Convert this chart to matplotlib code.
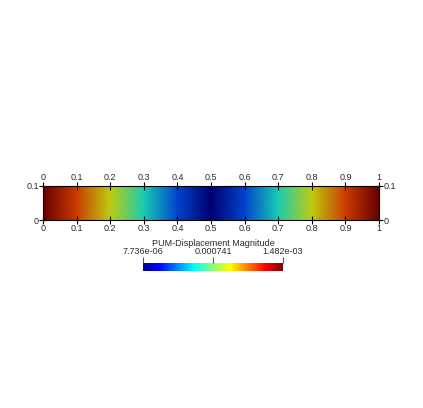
import numpy as np
import matplotlib
matplotlib.use('Agg')
from matplotlib import pyplot as plt
from matplotlib.colors import LinearSegmentedColormap, Normalize
from matplotlib.cm import ScalarMappable

# node positions along the bar and the displacement magnitude read at each one
x_nodes = [0.0, 0.1, 0.2, 0.3, 0.4, 0.5, 0.6, 0.7, 0.8, 0.9, 1.0]
y_nodes = [0.0, 0.1]
magnitude = [1.482e-03, 1.186e-03, 0.889e-03, 0.593e-03, 0.297e-03, 7.736e-06,
             0.297e-03, 0.593e-03, 0.889e-03, 1.186e-03, 1.482e-03]
x_ticks = [0, 0.1, 0.2, 0.3, 0.4, 0.5, 0.6, 0.7, 0.8, 0.9, 1]
x_ticklabels = ['0', '0.1', '0.2', '0.3', '0.4', '0.5', '0.6', '0.7', '0.8', '0.9', '1']
y_ticks = [0, 0.1]
y_ticklabels = ['0', '0.1']
vmin, vmax = 7.736e-06, 1.482e-03
cbar_ticklabels = ['7.736e-06', '0.000741', '1.482e-03']
cbar_title = 'PUM-Displacement Magnitude'

plt.rcParams['font.family'] = ['Liberation Sans', 'DejaVu Sans']

# paraview style jet
jet_pts = [(0.0, (0, 0, 0.5625)), (0.111, (0, 0, 1)), (0.365, (0, 1, 1)),
           (0.492, (0.5, 1, 0.5)), (0.619, (1, 1, 0)), (0.873, (1, 0, 0)),
           (1.0, (0.5, 0, 0))]
jet = LinearSegmentedColormap.from_list('pv_jet', jet_pts)
# the bar itself is a bit darker (lit surface)
shade = 0.8
jet_dim = LinearSegmentedColormap.from_list(
    'pv_jet_dim', [(p, tuple(c * shade for c in col)) for p, col in jet_pts])

W, H = 423, 408
fig = plt.figure(figsize=(W / 100, H / 100), dpi=100)
txt = '#2a2a2a'
fs = 6.5

ax = fig.add_axes([43 / W, 1 - 220 / H, 336 / W, 34 / H])
C = np.array([magnitude for _ in y_nodes])
ax.pcolormesh(x_nodes, y_nodes, C, shading='gouraud', cmap=jet_dim,
              vmin=vmin, vmax=vmax)
ax.set_xlim(0, 1)
ax.set_ylim(0, 0.1)
ax.set_xticks(x_ticks)
ax.set_xticklabels(x_ticklabels)
ax.set_yticks(y_ticks)
ax.set_yticklabels(y_ticklabels)
ax.tick_params(axis='both', direction='inout', length=6, width=0.8,
               labelsize=fs, labelcolor=txt, pad=0,
               top=True, labeltop=True, right=True, labelright=True)
for sp in ax.spines.values():
    sp.set_linewidth(0.8)

cax = fig.add_axes([143 / W, 1 - 271 / H, 140 / W, 8 / H])
sm = ScalarMappable(norm=Normalize(vmin, vmax), cmap=jet)
cb = fig.colorbar(sm, cax=cax, orientation='horizontal')
cb.outline.set_visible(False)
cb.set_ticks([vmin, (vmin + vmax) / 2, vmax])
cb.set_ticklabels(cbar_ticklabels)
cax.xaxis.set_ticks_position('top')
cax.tick_params(axis='x', direction='out', length=4, width=0.8, color='#555555',
                labelsize=fs, labelcolor=txt, pad=1)
fig.text(213 / W, 1 - 243 / H, cbar_title, ha='center', va='center',
         fontsize=fs, color=txt)

fig.savefig('out.png', dpi=100)
